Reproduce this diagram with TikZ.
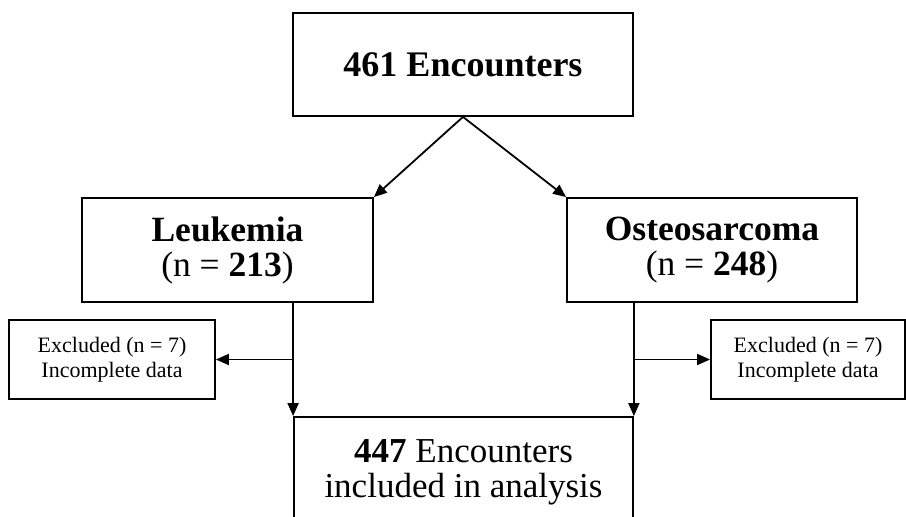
\documentclass[tikz,border=0pt]{standalone}
\usepackage{fontspec}
\setmainfont{Liberation Serif}
\usetikzlibrary{arrows.meta}
\begin{document}
\begin{tikzpicture}[x=1pt,y=-1pt,
  box/.style={draw=black,line width=1.8pt,fill=white,inner sep=0pt,align=center,text=black},
  conn/.style={line width=1.8pt,-{Triangle[length=13pt,width=11pt]}}]
\clip (0,0) rectangle (906,517);
\useasboundingbox (0,0) rectangle (906,517);
\node[box,minimum width=340pt,minimum height=103pt,font=\fontsize{36}{40}\selectfont\bfseries] (top) at (463,64.5) {461 Encounters};
\node[box,minimum width=291pt,minimum height=104pt,font=\fontsize{35.5}{35}\selectfont] (leuk) at (227.5,250) {\textbf{Leukemia}\\(n = \textbf{213})};
\node[box,minimum width=290pt,minimum height=104pt,font=\fontsize{35.5}{35}\selectfont] (osteo) at (712,250) {\textbf{Osteosarcoma}\\(n = \textbf{248})};
\node[box,minimum width=206pt,minimum height=79pt,font=\fontsize{22}{25}\selectfont] (exl) at (112,359.5) {Excluded (n = 7)\\Incomplete data};
\node[box,minimum width=194pt,minimum height=79pt,font=\fontsize{22}{25}\selectfont] (exr) at (808,359.5) {Excluded (n = 7)\\Incomplete data};
\node[box,minimum width=339pt,minimum height=110pt,font=\fontsize{35}{35}\selectfont] (incl) at (463.5,472) {\textbf{447} Encounters\\included in analysis};
\draw[conn] (top.south) -- (leuk.north east);
\draw[conn] (top.south) -- (osteo.north west);
\coordinate (lt) at (leuk.south -| incl.north west);
\coordinate (rt) at (osteo.south -| incl.north east);
\coordinate (lb) at (exl.east -| incl.north west);
\coordinate (rb) at (exr.west -| incl.north east);
\draw[conn] (lt) -- (incl.north west);
\draw[conn] (rt) -- (incl.north east);
\draw[conn] (lb) -- (exl.east);
\draw[conn] (rb) -- (exr.west);
\end{tikzpicture}
\end{document}
